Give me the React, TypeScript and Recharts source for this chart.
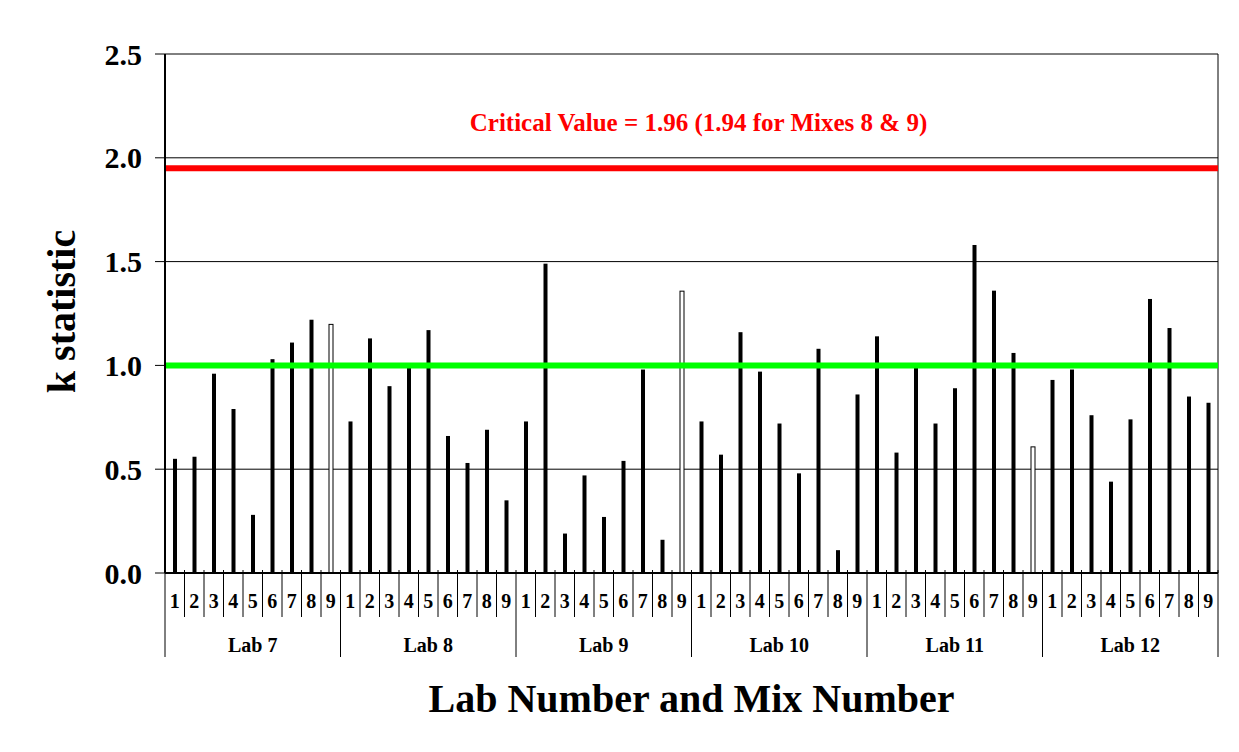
import React from 'react';
import { BarChart, Bar, XAxis, YAxis, CartesianGrid, ReferenceLine, Label } from 'recharts';

const labs = ['Lab 7', 'Lab 8', 'Lab 9', 'Lab 10', 'Lab 11', 'Lab 12'];
const mixes = ['1', '2', '3', '4', '5', '6', '7', '8', '9'];

const kLab7 = [0.55, 0.56, 0.96, 0.79, 0.28, 1.03, 1.11, 1.22, 1.2];
const kLab8 = [0.73, 1.13, 0.9, 0.99, 1.17, 0.66, 0.53, 0.69, 0.35];
const kLab9 = [0.73, 1.49, 0.19, 0.47, 0.27, 0.54, 0.98, 0.16, 1.36];
const kLab10 = [0.73, 0.57, 1.16, 0.97, 0.72, 0.48, 1.08, 0.11, 0.86];
const kLab11 = [1.14, 0.58, 1.0, 0.72, 0.89, 1.58, 1.36, 1.06, 0.61];
const kLab12 = [0.93, 0.98, 0.76, 0.44, 0.74, 1.32, 1.18, 0.85, 0.82];

const hollowBars = ['Lab 7|9', 'Lab 9|9', 'Lab 11|9'];

const yTicks = [0, 0.5, 1.0, 1.5, 2.0, 2.5];
const criticalValue = 1.95;
const referenceValue = 1.0;
const criticalText = 'Critical Value = 1.96 (1.94 for Mixes 8 & 9)';
const yTitle = 'k statistic';
const xTitle = 'Lab Number and Mix Number';

const seriesByLab = [kLab7, kLab8, kLab9, kLab10, kLab11, kLab12];

const data = labs.flatMap((lab, li) =>
  mixes.map((mix, mi) => ({
    key: `${lab}|${mix}`,
    lab,
    mix,
    k: seriesByLab[li][mi],
    hollow: hollowBars.includes(`${lab}|${mix}`),
  }))
);

const FONT = "'Liberation Serif', 'Times New Roman', Times, serif";
const fontStyle = { fontFamily: FONT };
const LAST = data.length - 1;
const W = 1239;
const H = 752;

const MixTick = (props: any) => {
  const { x, y, payload } = props;
  const idx = payload.index ?? 0;
  const half = payload.offset ?? 9.75;
  const d = data[idx];
  return (
    <g>
      <line x1={x - half} x2={x - half} y1={y - 3} y2={y + 44} stroke="#000" strokeWidth={1} />
      {idx === LAST && (
        <line x1={x + half} x2={x + half} y1={y - 3} y2={y + 44} stroke="#000" strokeWidth={1} />
      )}
      <text x={x} y={y + 35} textAnchor="middle" style={fontStyle} fontWeight="bold" fontSize={20} fill="#000">
        {d ? d.mix : ''}
      </text>
    </g>
  );
};

const LabTick = (props: any) => {
  const { x, y, payload } = props;
  const idx = payload.index ?? 0;
  const half = payload.offset ?? 9.75;
  const d = data[idx];
  if (!d) return <g />;
  return (
    <g>
      {d.mix === '1' && (
        <line x1={x - half} x2={x - half} y1={y} y2={y + 40} stroke="#000" strokeWidth={1} />
      )}
      {idx === LAST && (
        <line x1={x + half} x2={x + half} y1={y} y2={y + 40} stroke="#000" strokeWidth={1} />
      )}
      {d.mix === '5' && (
        <text x={x} y={y + 35} textAnchor="middle" style={fontStyle} fontWeight="bold" fontSize={20} fill="#000">
          {d.lab}
        </text>
      )}
    </g>
  );
};

const YTick = (props: any) => {
  const { x, y, payload } = props;
  return (
    <text x={x} y={y} dy="0.355em" textAnchor="end" style={fontStyle} fontWeight="bold" fontSize={30} fill="#000">
      {Number(payload.value).toFixed(1)}
    </text>
  );
};

const BarShape = (props: any) => {
  const { x, y, width, height, payload } = props;
  if (!height || height <= 0) return <g />;
  const cx = x + width / 2;
  if (payload && payload.hollow) {
    return <rect x={cx - 2} y={y + 0.5} width={4} height={height - 0.5} fill="#fff" stroke="#000" strokeWidth={1} />;
  }
  return <rect x={cx - 2} y={y} width={4} height={height} fill="#000" />;
};

const BorderFrame = () => (
  <g className="chart-frame">
    <line x1={5} y1={6} x2={1235} y2={6} stroke="#3c3c3c" strokeWidth={2} />
    <line x1={5} y1={6} x2={5} y2={H} stroke="#3c3c3c" strokeWidth={2} />
    <line x1={1235} y1={6} x2={1235} y2={H} stroke="#3c3c3c" strokeWidth={2} />
  </g>
);

export default function App() {
  return (
    <div style={{ position: 'relative', width: W, height: H, margin: '-8px 0 0 -8px', fontFamily: FONT }}>
      <BarChart
        width={W}
        height={H}
        data={data}
        margin={{ top: 54, right: 21, left: 0, bottom: 95 }}
      >
        <CartesianGrid
          stroke="#000"
          strokeWidth={1}
          vertical={true}
          verticalCoordinatesGenerator={({ offset }: any) => [offset.left + offset.width]}
        />
        <XAxis
          xAxisId={0}
          dataKey="key"
          interval={0}
          height={44}
          tickSize={0}
          tickMargin={0}
          tickLine={false}
          axisLine={{ stroke: '#000', strokeWidth: 2 }}
          tick={<MixTick />}
        />
        <XAxis
          xAxisId={1}
          dataKey="key"
          interval={0}
          height={40}
          tickSize={0}
          tickMargin={0}
          tickLine={false}
          axisLine={false}
          tick={<LabTick />}
        >
          <Label
            content={(p: any) => {
              const vb = p.viewBox || { x: 165, y: 617, width: 1053, height: 40 };
              return (
                <text
                  x={vb.x + vb.width / 2}
                  y={vb.y + 95}
                  textAnchor="middle"
                  style={fontStyle}
                  fontWeight="bold"
                  fontSize={40}
                  fill="#000"
                >
                  {xTitle}
                </text>
              );
            }}
          />
        </XAxis>
        <YAxis
          width={165}
          domain={[0, 2.5]}
          ticks={yTicks}
          interval={0}
          tickSize={10}
          tickMargin={13}
          tickLine={{ stroke: '#000', strokeWidth: 1 }}
          axisLine={{ stroke: '#000', strokeWidth: 2 }}
          tick={<YTick />}
        >
          <Label
            content={(p: any) => {
              const vb = p.viewBox || { x: 0, y: 54, width: 165, height: 519 };
              const cx = 75;
              const cy = vb.y + vb.height / 2 - 2;
              return (
                <text
                  x={cx}
                  y={cy}
                  transform={`rotate(-90, ${cx}, ${cy})`}
                  textAnchor="middle"
                  style={fontStyle}
                  fontWeight="bold"
                  fontSize={40}
                  fill="#000"
                >
                  {yTitle}
                </text>
              );
            }}
          />
        </YAxis>
        <ReferenceLine xAxisId={0} y={criticalValue} stroke="#ff0000" strokeWidth={6}>
          <Label
            content={(p: any) => {
              const vb = p.viewBox || { x: 165, y: 168, width: 1053 };
              return (
                <text
                  x={vb.x + vb.width / 2 + 7}
                  y={vb.y - 37}
                  textAnchor="middle"
                  style={fontStyle}
                  fontWeight="bold"
                  fontSize={25}
                  fill="#ff0000"
                >
                  {criticalText}
                </text>
              );
            }}
          />
        </ReferenceLine>
        <ReferenceLine xAxisId={0} y={referenceValue} stroke="#00ff00" strokeWidth={6} />
        <Bar xAxisId={0} dataKey="k" barSize={4} shape={<BarShape />} isAnimationActive={false} />
        <BorderFrame />
      </BarChart>
    </div>
  );
}
